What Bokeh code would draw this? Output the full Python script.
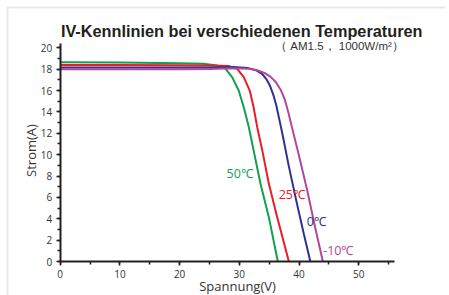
import math
from bokeh.plotting import figure
from bokeh.models import Range1d, Label, SingleIntervalTicker, BoxAnnotation
from bokeh.embed import file_html
from bokeh.resources import INLINE

# Data
v_50 = [0, 10, 20, 24, 26.3, 27.7, 28.8, 29.9, 30.75, 31.6, 32.4, 33.55, 34.95, 36.45]
i_50 = [18.65, 18.62, 18.56, 18.5, 18.35, 18.03, 17.25, 16.0, 14.44, 12.57, 10.4, 7.27, 4.15, 0]

v_25 = [0, 10, 20, 25, 28.2, 29.65, 30.75, 31.75, 32.4, 33.0, 33.85, 34.95, 36.35, 38.3]
i_25 = [18.4, 18.39, 18.37, 18.35, 18.3, 18.03, 17.25, 16.0, 14.44, 12.57, 10.4, 7.27, 4.15, 0]

v_0 = [0, 10, 20, 25, 29, 31.5, 32.8, 33.8, 34.5, 35.1, 35.7, 36.2, 36.7, 37.2, 38.3, 39.7, 40.8, 41.9]
i_0 = [18.15, 18.15, 18.15, 18.16, 18.2, 18.1, 17.9, 17.57, 17.1, 16.5, 15.6, 14.6, 13.3, 12.0, 8.9, 5.3, 2.6, 0]

v_m10 = [0, 10, 20, 25, 29, 31.5, 33.0, 34.2, 35.2, 36.1, 36.9, 37.6, 38.2, 38.85, 40.0, 41.4, 42.7, 44.0]
i_m10 = [18.0, 18.0, 18.0, 18.02, 18.08, 18.05, 17.9, 17.65, 17.3, 16.8, 16.1, 15.2, 14.0, 12.5, 9.9, 6.6, 3.2, 0]

series_names = ["50℃", "25℃", "0℃", "-10℃"]
series_colors = ["#12a04c", "#ed1c24", "#2e3192", "#b2489a"]
label_pos = [(27.86, 8.2), (36.6, 6.3), (41.3, 3.7), (44.05, 1.0)]

title_text = "IV-Kennlinien bei verschiedenen Temperaturen"
subtitle_text = "（ AM1.5， 1000W/m²）"
x_label = "Spannung(V)"
y_label = "Strom(A)"

W, H = 445, 295
X0, Y0 = 59.7, 261.0   # canvas pixel of data origin
SX, SY = 5.97, 10.685  # pixels per unit
p = figure(width=W, height=H, output_backend="svg", toolbar_location=None,
           x_range=Range1d(-X0 / SX, (W - X0) / SX),
           y_range=Range1d((Y0 - H) / SY, Y0 / SY),
           min_border_left=0, min_border_right=0, min_border_top=0,
           min_border_bottom=0)
p.outline_line_color = None
p.xgrid.visible = False
p.ygrid.visible = False
p.background_fill_color = "white"
p.border_fill_color = "white"

# light page frame (left and top edges)
p.add_layout(BoxAnnotation(left=(7 - X0) / SX, top=(Y0 - 7) / SY, right=200, bottom=-100,
                           fill_alpha=0, line_color="#b4b4b4", line_width=2))

for vs, cs, col in zip([v_50, v_25, v_0, v_m10], [i_50, i_25, i_0, i_m10], series_colors):
    p.line(vs, cs, line_color=col, line_width=2)

for (lx, ly), name, col in zip(label_pos, series_names, series_colors):
    p.add_layout(Label(x=lx, y=ly, text=name, text_color=col, text_font="Open Sans",
                       text_font_size="12.5px", text_align="left", text_baseline="middle"))

p.add_layout(Label(x=30.4, y=21.6, text=title_text, text_color="#231f20",
                   text_font="Liberation Sans", text_font_style="bold",
                   text_font_size="16.3px", text_align="center", text_baseline="middle"))
p.add_layout(Label(x=36.0, y=20.2, text=subtitle_text, text_color="#333333",
                   text_font="Liberation Sans", text_font_size="11.5px",
                   text_align="left", text_baseline="middle"))
p.add_layout(Label(x=29.7, y=-2.3, text=x_label, text_color="#333333",
                   text_font="Open Sans", text_font_size="13px",
                   text_align="center", text_baseline="middle"))
p.add_layout(Label(x=-4.97, y=10.39, text=y_label, text_color="#333333",
                   text_font="Open Sans", text_font_size="13px", angle=math.pi / 2,
                   text_align="center", text_baseline="middle"))

p.xaxis.ticker = SingleIntervalTicker(interval=10, num_minor_ticks=2)
p.yaxis.ticker = SingleIntervalTicker(interval=2, num_minor_ticks=2)
p.xaxis.fixed_location = 0
p.yaxis.fixed_location = 0
p.xaxis.bounds = (0, 56)
p.yaxis.bounds = (0, 20.4)
for ax in (p.xaxis, p.yaxis):
    ax.axis_line_color = "#231f20"
    ax.axis_line_width = 2
    ax.major_tick_line_color = "#231f20"
    ax.minor_tick_line_color = "#231f20"
    ax.major_tick_line_width = 1.5
    ax.minor_tick_line_width = 1.5
    ax.major_tick_in = 0
    ax.major_tick_out = 4
    ax.minor_tick_in = 0
    ax.minor_tick_out = 3
    ax.major_label_text_font = "Open Sans"
    ax.major_label_text_font_size = "10px"
    ax.major_label_text_color = "#333333"
p.xaxis.major_label_standoff = 4
p.yaxis.major_label_standoff = 4

open("out.html", "w").write(file_html(p, INLINE))
